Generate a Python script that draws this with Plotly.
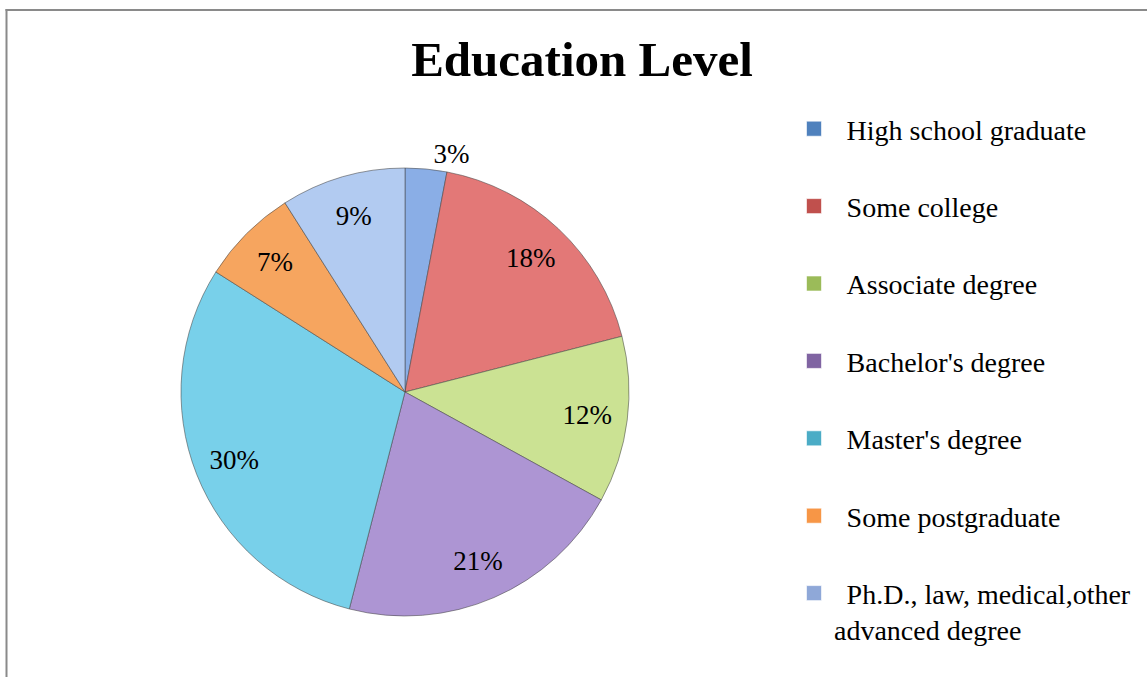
import plotly.graph_objects as go

categories = ["High school graduate", "Some college", "Associate degree",
              "Bachelor's degree", "Master's degree", "Some postgraduate",
              "Ph.D., law, medical,other<br>advanced degree"]
values = [3, 18, 12, 21, 30, 7, 9]
slice_colors = ["#8AAEE6", "#E37877", "#CBE293", "#AD95D3", "#78D0EA", "#F6A55F", "#B2CBF1"]
legend_colors = ["#4F81BD", "#C0504D", "#9BBB59", "#8064A2", "#4BACC6", "#F79646", "#8FA8D8"]
outside_label = [True, False, False, False, False, False, False]

FONT = "Liberation Serif"
W, H = 1148, 677

fig = go.Figure()

cx, cy, r = 405, 392, 224
dom = dict(x=[(cx - r) / W, (cx + r) / W], y=[(H - cy - r) / H, (H - cy + r) / H])
lab_font = dict(family=FONT, size=27, color="black")

# main pie: slices, plus the outside label of the small slice
fig.add_trace(go.Pie(
    labels=categories,
    values=values,
    sort=False,
    direction="clockwise",
    rotation=0,
    marker=dict(colors=slice_colors, line=dict(color="rgba(70,70,70,0.55)", width=1)),
    texttemplate=["%{percent}" if o else "" for o in outside_label],
    textposition=["outside" if o else "none" for o in outside_label],
    outsidetextfont=lab_font,
    showlegend=False,
    hoverinfo="label+percent",
    domain=dom,
))

# transparent ring on top: puts the inside labels out toward the rim
fig.add_trace(go.Pie(
    labels=categories,
    values=values,
    sort=False,
    direction="clockwise",
    rotation=0,
    hole=0.64,
    marker=dict(colors=["rgba(0,0,0,0)"] * len(values), line=dict(width=0)),
    texttemplate=["" if o else "%{percent}" for o in outside_label],
    textposition="inside",
    insidetextorientation="horizontal",
    textfont=lab_font,
    showlegend=False,
    hoverinfo="skip",
    domain=dom,
))

for name, col in zip(categories, legend_colors):
    fig.add_trace(go.Scatter(
        x=[None], y=[None], mode="markers",
        marker=dict(symbol="square", size=15, color=col,
                    line=dict(color="rgba(255,255,255,0.6)", width=1)),
        name="\u00a0\u2009" + name,
        legendgroup=name,
        showlegend=True,
        hoverinfo="skip",
    ))

fig.update_layout(
    width=W, height=H,
    margin=dict(l=0, r=0, t=0, b=0),
    paper_bgcolor="white",
    plot_bgcolor="white",
    xaxis=dict(visible=False),
    yaxis=dict(visible=False),
    title=dict(text="<b>Education Level</b>", x=582 / W, xanchor="center",
               y=1 - 59 / H, yanchor="middle",
               font=dict(family=FONT, size=49, color="black")),
    legend=dict(x=794 / W, xanchor="left", y=1 - 104 / H, yanchor="top",
                font=dict(family=FONT, size=28, color="black"),
                traceorder="grouped", tracegroupgap=38, valign="top",
                bgcolor="rgba(0,0,0,0)", borderwidth=0),
    shapes=[
        dict(type="line", xref="paper", yref="paper", x0=6.5 / W, x1=6.5 / W,
             y0=0, y1=1 - 9 / H, line=dict(color="#8A8A8A", width=2)),
        dict(type="line", xref="paper", yref="paper", x0=5.5 / W, x1=1147 / W,
             y0=1 - 10 / H, y1=1 - 10 / H, line=dict(color="#8A8A8A", width=2)),
    ],
)

fig.write_html("out.html")
